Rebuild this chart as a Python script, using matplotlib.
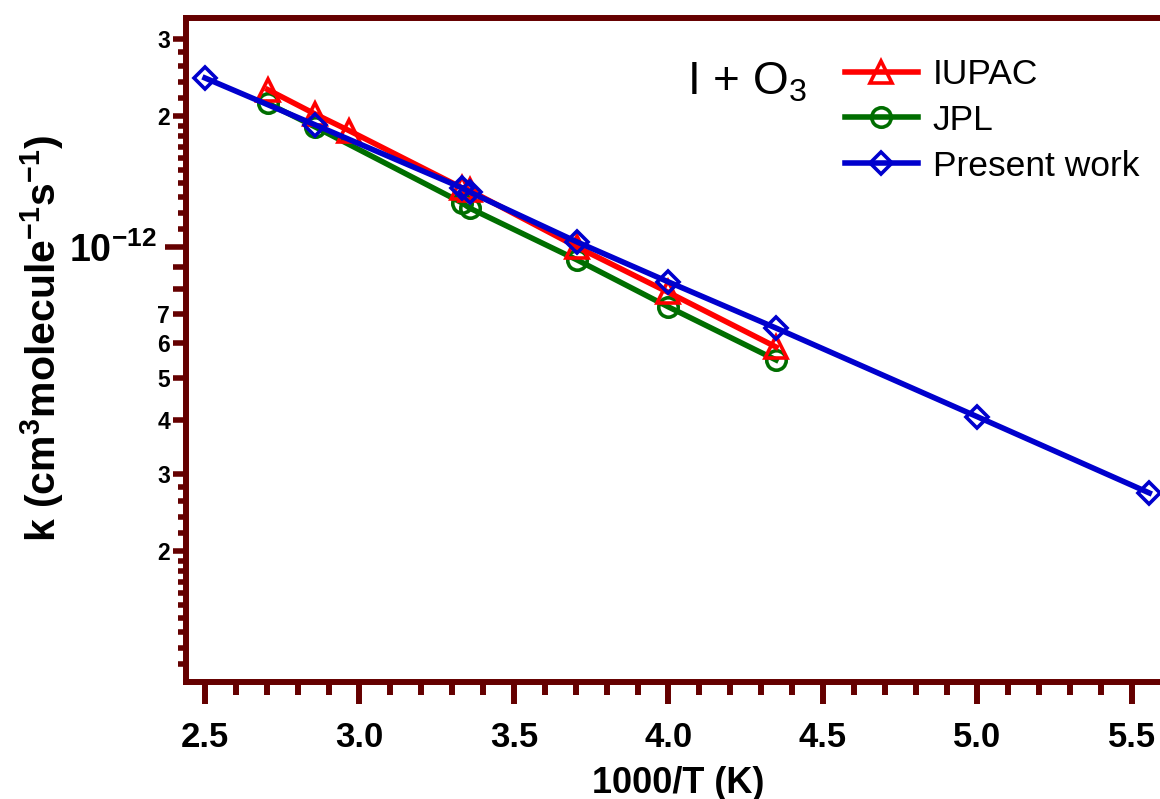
import matplotlib
matplotlib.use('Agg')
import matplotlib.pyplot as plt
from matplotlib.ticker import FixedLocator, FixedFormatter, NullLocator, NullFormatter

plt.rcParams['font.family'] = ['Liberation Sans', 'DejaVu Sans']
plt.rcParams['font.weight'] = 'bold'
plt.rcParams['mathtext.default'] = 'regular'

# ---- data (1000/T in K^-1, k in cm3 molecule-1 s-1) ----
inv_T_iupac = [2.703, 2.857, 2.967, 3.333, 3.356, 3.704, 4.000, 4.348]
k_iupac = [2.30e-12, 2.02e-12, 1.85e-12, 1.366e-12, 1.35e-12, 1.00e-12, 0.786e-12, 0.589e-12]

inv_T_jpl = [2.703, 2.857, 3.333, 3.356, 3.704, 4.000, 4.348]
k_jpl = [2.14e-12, 1.887e-12, 1.262e-12, 1.229e-12, 0.934e-12, 0.728e-12, 0.550e-12]

inv_T_pw = [2.500, 2.857, 3.333, 3.356, 3.704, 4.000, 4.348, 5.000, 5.556]
k_pw = [2.446e-12, 1.908e-12, 1.366e-12, 1.338e-12, 1.027e-12, 0.831e-12, 0.651e-12, 0.407e-12, 0.272e-12]

series_labels = ['IUPAC', 'JPL', 'Present work']

x_major = [2.5, 3.0, 3.5, 4.0, 4.5, 5.0, 5.5]
y_long = [1e-12]
y_long_labels = [r'$10^{-12}$']
y_medium = [2e-13, 3e-13, 4e-13, 5e-13, 6e-13, 7e-13, 8e-13, 9e-13, 2e-12, 3e-12]
y_medium_labels = ['2', '3', '4', '5', '6', '7', '', '', '2', '3']
y_short = ([m * 1e-13 for m in (1.1, 1.2, 1.3, 1.4, 1.5, 1.6, 1.7, 1.8, 1.9, 2.2, 2.4, 2.6, 2.8)] +
           [m * 1e-12 for m in (1.1, 1.2, 1.3, 1.4, 1.5, 1.6, 1.7, 1.8, 1.9, 2.2, 2.4, 2.6, 2.8)])

axc = '#650000'
W, H = 1160, 799
fig = plt.figure(figsize=(W / 100, H / 100), dpi=100)
rect = [186 / W, 1 - 682 / H, (1165 - 186) / W, (682 - 18) / H]
ax = fig.add_axes(rect)

ln_g, = ax.plot(inv_T_jpl, k_jpl, color='#006e00', lw=4.0, marker='o', ms=14,
                mfc='none', mew=2.6, zorder=3, label=series_labels[1])
ln_r, = ax.plot(inv_T_iupac, k_iupac, color='#ff0000', lw=4.0, marker='^', ms=16,
                mfc='none', mew=2.6, zorder=4, label=series_labels[0])
ln_b, = ax.plot(inv_T_pw, k_pw, color='#0000cd', lw=4.0, marker='D', ms=11.5,
                mfc='none', mew=2.6, zorder=5, label=series_labels[2])

ax.set_yscale('log')
ax.set_xlim(2.5 - 19 / 309, 2.5 + 960 / 309)
ax.set_ylim(1e-13, 3.36e-12)

ax.xaxis.set_major_locator(FixedLocator(x_major))
ax.xaxis.set_major_formatter(FixedFormatter([f'{v:.1f}' for v in x_major]))
ax.xaxis.set_minor_locator(FixedLocator([2.5 + 0.1 * i for i in range(32)]))

ax.yaxis.set_major_locator(FixedLocator(y_long))
ax.yaxis.set_major_formatter(FixedFormatter(y_long_labels))
ax.yaxis.set_minor_locator(FixedLocator(y_medium))
ax.yaxis.set_minor_formatter(FixedFormatter(y_medium_labels))

ax.tick_params(axis='x', which='major', direction='out', length=15.8, width=4.3,
               color=axc, labelsize=25, pad=12)
ax.tick_params(axis='x', which='minor', direction='out', length=9.4, width=4.3, color=axc)
ax.tick_params(axis='y', which='major', direction='out', length=15, width=4.0,
               color=axc, labelsize=27, pad=6)
ax.tick_params(axis='y', which='minor', direction='out', length=9.4, width=4.0,
               color=axc, labelsize=16.5, pad=2)
ax.tick_params(top=False, right=False, which='both')

for s in ['left', 'bottom', 'top']:
    ax.spines[s].set_linewidth(4.3)
    ax.spines[s].set_color(axc)
ax.spines['right'].set_visible(False)

# overlay axes for the short y ticks
ax2 = fig.add_axes(rect, frameon=False)
ax2.set_yscale('log')
ax2.set_xlim(ax.get_xlim())
ax2.set_ylim(ax.get_ylim())
ax2.set_xticks([])
ax2.yaxis.set_major_locator(FixedLocator(y_short))
ax2.yaxis.set_major_formatter(NullFormatter())
ax2.yaxis.set_minor_locator(NullLocator())
ax2.tick_params(axis='y', which='major', direction='out', length=5.8, width=4.0, color=axc)
ax2.patch.set_visible(False)

leg = ax.legend(handles=[ln_r, ln_g, ln_b], loc='upper left',
                bbox_to_anchor=(845 / W, 1 - 58 / H), bbox_transform=fig.transFigure,
                frameon=False, borderpad=0, borderaxespad=0, handlelength=2.06,
                handletextpad=0.42, labelspacing=0.36,
                prop={'size': 25.5, 'weight': 'normal'})

fig.text(687 / W, 1 - 95 / H, r'I + O$_3$', fontsize=33, fontweight='normal',
         ha='left', va='baseline')

fig.text(42 / W, 1 - 338 / H, r'k (cm$^{3}$molecule$^{-1}$s$^{-1}$)', rotation=90,
         ha='center', va='center', fontsize=29.5, fontweight='bold')
fig.text(678 / W, 1 - 793 / H, '1000/T (K)', ha='center', va='baseline',
         fontsize=26, fontweight='bold')

fig.savefig('out.png', dpi=100)
